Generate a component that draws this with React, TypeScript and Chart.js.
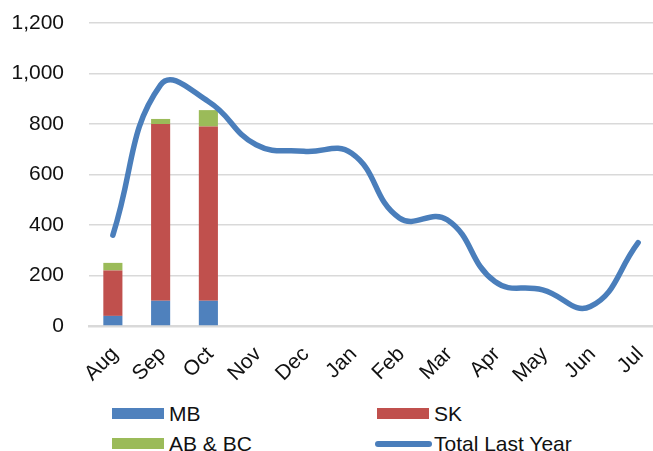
import React, { useEffect, useRef } from "react";
import { Chart, registerables } from "chart.js";

Chart.register(...registerables);

const months = ["Aug", "Sep", "Oct", "Nov", "Dec", "Jan", "Feb", "Mar", "Apr", "May", "Jun", "Jul"];
const mb = [40, 100, 100, null, null, null, null, null, null, null, null, null];
const sk = [180, 700, 690, null, null, null, null, null, null, null, null, null];
const abbc = [30, 20, 65, null, null, null, null, null, null, null, null, null];
const totalLastYear = [360, 955, 889, 718, 692, 684, 428, 421, 176, 143, 77, 330];
const yTicks = [0, 200, 400, 600, 800, 1000, 1200];

const FONT = "'Liberation Sans', Arial, sans-serif";
const C_MB = "#4f81bd";
const C_SK = "#c0504d";
const C_AB = "#9bbb59";
const C_LINE = "#4a7ebb";
const TEXT = "#111";

export default function App() {
  const ref = useRef<HTMLCanvasElement>(null);
  useEffect(() => {
    document.body.style.margin = "0";
    const ctx = ref.current!;
    const chart = new Chart(ctx, {
      type: "bar",
      data: {
        labels: months,
        datasets: [
          { type: "line", label: "Total Last Year", data: totalLastYear, borderColor: C_LINE, backgroundColor: C_LINE, borderWidth: 5.5, pointRadius: 0, tension: 0.45, order: 0, borderCapStyle: "round", borderJoinStyle: "round" } as any,
          { label: "MB", data: mb, backgroundColor: C_MB, stack: "s", order: 1 },
          { label: "SK", data: sk, backgroundColor: C_SK, stack: "s", order: 1 },
          { label: "AB & BC", data: abbc, backgroundColor: C_AB, stack: "s", order: 1 },
        ],
      },
      options: {
        animation: false,
        responsive: false,
        maintainAspectRatio: false,
        layout: { padding: { left: 0, right: 8, top: 23, bottom: 0 } },
        datasets: { bar: { barPercentage: 0.4, categoryPercentage: 1 } },
        plugins: { legend: { display: false }, tooltip: { enabled: false } },
        scales: {
          x: {
            stacked: true,
            afterFit: (axis: any) => { axis.height = 74; axis.paddingLeft = 0; axis.paddingRight = 0; },
            grid: { display: false, drawTicks: false },
            border: { display: true, color: "#d9d9d9", width: 2.5 },
            ticks: { font: { family: FONT, size: 21 }, color: TEXT, maxRotation: 45, minRotation: 45, padding: 16, labelOffset: 2, autoSkip: false },
          },
          y: {
            stacked: true,
            min: 0,
            max: 1200,
            afterFit: (axis: any) => { axis.width = 89; axis.paddingTop = 0; axis.paddingBottom = 0; },
            afterBuildTicks: (axis: any) => { axis.ticks = yTicks.map((v) => ({ value: v })); },
            grid: { color: "#d9d9d9", lineWidth: 1.5, drawTicks: false },
            border: { display: false },
            ticks: {
              font: { family: FONT, size: 21 },
              color: TEXT,
              padding: 25,
              callback: (v: any) => Number(v).toLocaleString("en-US"),
            },
          },
        },
      },
    });
    return () => chart.destroy();
  }, []);

  const legendText: React.CSSProperties = { position: "absolute", font: `21px ${FONT}`, color: TEXT, lineHeight: "24px", whiteSpace: "nowrap" };
  const box = (x: number, y: number, c: string): React.CSSProperties => ({ position: "absolute", left: x, top: y, width: 52, height: 11, background: c });

  return (
    <div style={{ position: "relative", width: 653, height: 451, background: "#fff", overflow: "hidden" }}>
      <canvas ref={ref} width={670} height={400} style={{ position: "absolute", left: 0, top: 0 }} />
      <div style={box(112, 408, C_MB)} />
      <div style={{ ...legendText, left: 169, top: 402 }}>MB</div>
      <div style={box(377, 408, C_SK)} />
      <div style={{ ...legendText, left: 434, top: 402 }}>SK</div>
      <div style={box(112, 438, C_AB)} />
      <div style={{ ...legendText, left: 169, top: 432 }}>AB &amp; BC</div>
      <div style={{ position: "absolute", left: 375, top: 441, width: 57, height: 6, borderRadius: 3, background: C_LINE }} />
      <div style={{ ...legendText, left: 434, top: 432 }}>Total Last Year</div>
    </div>
  );
}
